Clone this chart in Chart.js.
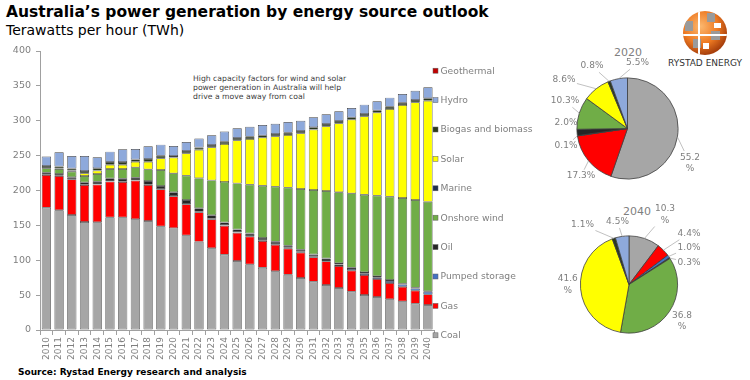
<!DOCTYPE html>
<html><head><meta charset="utf-8">
<script src="https://cdn.jsdelivr.net/npm/chart.js@4.4.1/dist/chart.umd.min.js"></script>
<style>
body{margin:0;width:750px;height:380px;background:#fff;position:relative;overflow:hidden;font-family:"DejaVu Sans",Verdana,sans-serif;}
.t{position:absolute;white-space:nowrap;}
canvas{position:absolute;}
</style></head><body>
<div class="t" style="left:6px;top:2.6px;font-weight:bold;font-size:15.5px;color:#000">Australia’s power generation by energy source outlook</div>
<div class="t" style="left:6px;top:22px;font-size:14px;color:#000">Terawatts per hour (TWh)</div>
<div class="t" style="left:18px;top:367px;font-weight:bold;font-size:9px;color:#000">Source: Rystad Energy research and analysis</div>
<div class="t" style="left:193px;top:73.7px;font-size:7.7px;line-height:9.2px;color:#404040">High capacity factors for wind and solar<br>power generation in Australia will help<br>drive a move away from coal</div>
<div class="t" style="left:578px;top:46px;width:100px;text-align:center;font-size:11px;color:#7F7F7F">2020</div>
<div class="t" style="left:587px;top:205px;width:100px;text-align:center;font-size:11px;color:#7F7F7F">2040</div>
<svg style="position:absolute;left:681px;top:9px" width="48" height="48" viewBox="0 0 48 48">
<defs><radialGradient id="g" cx="40%" cy="35%" r="65%"><stop offset="0" stop-color="#FBB870"/><stop offset="0.6" stop-color="#EE7A22"/><stop offset="1" stop-color="#A8400C"/></radialGradient><clipPath id="c"><circle cx="24" cy="24" r="22"/></clipPath></defs>
<circle cx="24" cy="24" r="22" fill="url(#g)"/>
<g clip-path="url(#c)" fill="#9A9A9A"><rect x="4" y="12" width="8" height="10"/><rect x="26" y="4" width="8" height="9"/><rect x="30" y="22" width="9" height="9"/><rect x="12" y="30" width="8" height="9"/></g>
<g clip-path="url(#c)" fill="#fff"><rect x="17" y="2" width="2" height="44"/><rect x="2" y="25" width="44" height="2"/><rect x="33" y="14" width="7" height="5"/><rect x="22" y="34" width="6" height="6"/></g>
</svg>
<div class="t" style="left:668px;top:57.7px;font-size:9px;color:#333">RYSTAD ENERGY</div>
<canvas id="main" width="545" height="380" style="left:0;top:0"></canvas>
<canvas id="p2020" width="205" height="150" style="left:545px;top:40px"></canvas>
<canvas id="p2040" width="205" height="185" style="left:545px;top:195px"></canvas>
<script>
const years = ['2010','2011','2012','2013','2014','2015','2016','2017','2018','2019','2020','2021','2022','2023','2024','2025','2026','2027','2028','2029','2030','2031','2032','2033','2034','2035','2036','2037','2038','2039','2040'];
const seriesNames = ['Coal','Gas','Pumped storage','Oil','Onshore wind','Marine','Solar','Biogas and biomass','Hydro','Geothermal'];
const coal = [175.4,171.6,164.9,154.8,154.4,161.5,161.5,158.7,156.3,148.6,146.0,135.7,126.4,117.3,108.0,98.9,94.1,89.2,84.2,79.3,74.6,69.3,64.5,60.2,55.0,50.2,47.3,44.0,41.1,37.8,35.8];
const gas = [46.8,49.2,51.1,53.1,54.0,51.2,50.7,55.4,51.6,53.1,45.8,44.5,42.5,41.5,41.3,40.5,39.7,38.4,38.0,37.3,36.3,35.0,34.0,31.6,30.1,28.7,25.8,23.4,21.0,18.6,15.3];
const pumpedStorage = [0.3,0.3,0.3,0.3,0.3,0.3,0.3,0.3,0.3,0.3,0.3,0.5,0.6,0.7,0.8,0.9,1.0,1.1,1.2,1.3,1.4,1.6,1.8,2.0,2.2,2.4,2.6,2.8,3.0,3.2,3.5];
const oil = [3.1,2.6,2.6,3.5,4.0,4.4,4.5,4.0,5.4,4.5,5.3,5.7,5.2,5.0,4.2,3.9,3.6,3.3,3.1,2.9,2.7,2.5,2.3,2.1,1.9,1.7,1.6,1.4,1.3,1.1,1.0];
const onshoreWind = [6.2,7.1,8.1,9.1,11.0,13.4,13.8,14.8,16.7,22.9,27.2,34.9,43.0,50.0,58.0,66.0,70.0,74.9,79.0,83.3,87.2,92.3,96.7,101.5,106.7,111.0,115.3,119.6,122.8,125.7,128.1];
const marine = [0,0,0,0,0,0,0,0,0,0,0,0,0,0,0,0,0,0,0,0,0,0,0,0,0,0,0,0,0,0,0];
const solar = [0.3,0.6,1.5,3.8,4.8,6.2,6.2,8.1,11.0,16.7,22.7,32.0,40.6,47.4,54.2,61.8,65.5,68.9,72.2,75.5,79.8,86.6,92.7,98.9,105.7,112.4,119.0,125.7,133.4,140.0,144.8];
const biogas = [3.0,3.0,3.0,3.4,3.5,3.9,3.9,3.3,3.9,3.8,2.1,3.3,3.3,3.3,3.3,3.3,3.3,3.3,3.3,3.3,3.3,3.3,3.3,3.3,3.3,3.3,3.3,3.3,3.3,3.3,3.8];
const hydro = [13.5,20.3,18.0,21.5,15.6,14.8,18.1,14.9,18.1,15.8,14.5,12.9,12.9,13.9,14.8,13.8,14.3,14.8,14.8,15.3,14.8,14.3,13.9,13.9,13.4,13.4,12.9,12.9,12.5,13.4,15.7];
const geothermal = [0,0,0,0,0,0,0,0,0,0,0,0,0,0,0,0,0,0,0,0,0,0,0,0,0,0,0,0,0,0,0];
const share2020 = [55.2,17.3,0.1,2.0,10.3,0,8.6,0.8,5.5,0];
const share2040 = [10.3,4.4,1.0,0.3,36.8,0,41.6,1.1,4.5,0];
const yTicks = [0,50,100,150,200,250,300,350,400];

const seriesData = [coal,gas,pumpedStorage,oil,onshoreWind,marine,solar,biogas,hydro,geothermal];
const colors = ['#A6A6A6','#FF0000','#4472C4','#262626','#70AD47','#1F2F4F','#FFFF00','#2B3A1E','#8EA9DB','#C00000'];
const FONT = '"DejaVu Sans", Verdana, sans-serif';
Chart.defaults.font.family = FONT;
Chart.defaults.color = '#7F7F7F';
const axisColor = '#A0A0A0';

const sideLegend = {
  id:'sideLegend',
  afterDraw(chart){
    const ctx = chart.ctx, a = chart.chartArea, ds = chart.data.datasets;
    const n = ds.length, y0 = a.top + 19.7, step = (a.bottom + 5.3 - y0)/(n-1);
    ctx.save();
    ctx.font = '9.2px ' + FONT; ctx.textBaseline = 'middle'; ctx.textAlign = 'left';
    for (let k = 0; k < n; k++) {
      const d = ds[n-1-k], y = y0 + k*step, x = a.right - 1.3;
      ctx.fillStyle = d.backgroundColor; ctx.fillRect(x, y-2.5, 5, 5);
      ctx.strokeStyle = '#606060'; ctx.lineWidth = 0.5; ctx.strokeRect(x, y-2.5, 5, 5);
      ctx.fillStyle = '#7F7F7F'; ctx.fillText(d.label, x + 7.5, y + 0.5);
    }
    ctx.restore();
  }
};

new Chart(document.getElementById('main'), {
  type:'bar',
  data:{
    labels: years,
    datasets: seriesNames.map((name,i)=>({
      label:name, data:seriesData[i], backgroundColor:colors[i],
      borderColor:'#3F3F3F', borderWidth: seriesData[i].some(v=>v>0) ? 0.7 : 0,
      borderSkipped:false, barPercentage:0.73, categoryPercentage:1.0
    }))
  },
  options:{
    responsive:false, animation:false, devicePixelRatio:1,
    layout:{padding:{top:51,right:110.7,bottom:0,left:0}},
    plugins:{legend:{display:false}, tooltip:{enabled:false}},
    scales:{
      x:{stacked:true,
         grid:{display:true,drawOnChartArea:false,offset:true,tickLength:5,color:axisColor},
         border:{color:axisColor},
         ticks:{minRotation:90,maxRotation:90,autoSkip:false,padding:2,font:{size:9},color:'#7F7F7F'},
         afterFit(s){s.height=50;}},
      y:{stacked:true,min:0,max:400,
         afterBuildTicks(s){s.ticks = yTicks.map(v=>({value:v}));},
         grid:{display:true,drawOnChartArea:false,tickLength:4,color:axisColor},
         border:{color:axisColor},
         ticks:{padding:5,font:{size:9.5},color:'#7F7F7F'},
         afterFit(s){s.width=40;}}
    }
  },
  plugins:[sideLegend]
});

const pieLabels = {
  id:'pieLabels',
  afterDraw(chart, args, opts){
    const ctx = chart.ctx, meta = chart.getDatasetMeta(0), vals = chart.data.datasets[0].data;
    ctx.save();
    ctx.font = '9px ' + FONT; ctx.fillStyle = '#7F7F7F'; ctx.strokeStyle = '#A6A6A6'; ctx.lineWidth = 0.7;
    ctx.textAlign = 'center'; ctx.textBaseline = 'middle';
    meta.data.forEach((arc,i)=>{
      const L = opts.layout[i]; if (!L || !vals[i]) return;
      const v = vals[i].toFixed(1);
      const lines = L.two ? [v,'%'] : [v+'%'];
      const lh = 11.5, lx = arc.x + L.dx, ly = arc.y + L.dy;
      const w = Math.max(...lines.map(s=>ctx.measureText(s).width)), h = lines.length*lh;
      const mid = (arc.startAngle + arc.endAngle)/2;
      const px = arc.x + arc.outerRadius*Math.cos(mid), py = arc.y + arc.outerRadius*Math.sin(mid);
      const dx = px-lx, dy = py-ly, hw = w/2+1.5, hh = h/2+0.5;
      const t = Math.min(Math.abs(dx)>0 ? hw/Math.abs(dx) : Infinity, Math.abs(dy)>0 ? hh/Math.abs(dy) : Infinity);
      if (t < 1) {
        const ex = lx + dx*t, ey = ly + dy*t;
        if (Math.hypot(px-ex, py-ey) > 5) { ctx.beginPath(); ctx.moveTo(px,py); ctx.lineTo(ex,ey); ctx.stroke(); }
      }
      lines.forEach((s,k)=>ctx.fillText(s, lx, ly + (k-(lines.length-1)/2)*lh));
    });
    ctx.restore();
  }
};

const layout2020 = [{dx:62.5,dy:34.5,two:true},{dx:-46.5,dy:47.5},{dx:-61.5,dy:17.5},{dx:-61.5,dy:-5.5},{dx:-62.5,dy:-27.5},null,{dx:-63.5,dy:-48.5},{dx:-35.5,dy:-62.5},{dx:10,dy:-65.5},null];
const layout2040 = [{dx:36,dy:-70,two:true},{dx:60,dy:-51},{dx:60,dy:-37},{dx:60,dy:-22},{dx:53,dy:36.5,two:true},null,{dx:-61.3,dy:0.2,two:true},{dx:-46.5,dy:-59.5},{dx:-11.5,dy:-62.8},null];

function makePie(id, values, padding, layout){
  new Chart(document.getElementById(id), {
    type:'pie',
    data:{labels:seriesNames, datasets:[{data:values, backgroundColor:colors, borderColor:'#3F3F3F', borderWidth:0.8}]},
    options:{responsive:false, animation:false, devicePixelRatio:1, layout:{padding},
      plugins:{legend:{display:false}, tooltip:{enabled:false}, pieLabels:{layout}}},
    plugins:[pieLabels]
  });
}
makePie('p2020', share2020, {left:31.5,right:71.5,top:37.5,bottom:10.5}, layout2020);
makePie('p2040', share2040, {left:35,right:72,top:40.5,bottom:46.5}, layout2040);
</script>
</body></html>
